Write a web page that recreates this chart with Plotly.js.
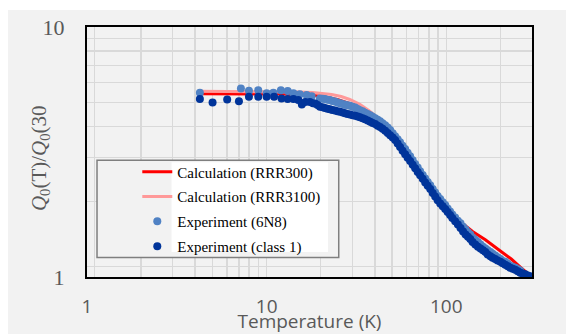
<!DOCTYPE html>
<html>
<head>
<meta charset="utf-8">
<script src="https://cdn.plot.ly/plotly-3.0.1.min.js"></script>
<style>
  html, body { margin: 0; padding: 0; background: #ffffff; }
  #wrap { position: absolute; left: 8px; top: 10px; width: 558px; height: 324px; }
  #chart { width: 558px; height: 324px; }
</style>
</head>
<body>
<div id="wrap"><div id="chart"></div></div>
<script>
// ---- Data ----
const seriesNames = ['Calculation (RRR300)', 'Calculation (RRR3100)', 'Experiment (6N8)', 'Experiment (class 1)'];

const calcRRR300_T = [4.2, 6, 8, 10, 12, 15, 18, 20, 25, 30, 35, 40, 45, 50, 60, 70, 80, 90, 100, 110, 120, 140, 165, 200, 230, 260, 300];
const calcRRR300_Q = [5.41, 5.41, 5.41, 5.40, 5.39, 5.37, 5.34, 5.30, 5.12, 4.90, 4.66, 4.38, 4.06, 3.74, 3.19, 2.75, 2.41, 2.11, 1.89, 1.76, 1.66, 1.52, 1.41, 1.27, 1.18, 1.09, 1.0];

const calcRRR3100_T = [4.2, 6, 8, 10, 12, 15, 18, 20, 23, 26, 29, 33, 37, 41, 45, 50, 55, 60, 70, 80, 90, 100, 120, 150, 200, 250, 300];
const calcRRR3100_Q = [5.53, 5.53, 5.53, 5.53, 5.52, 5.50, 5.47, 5.44, 5.37, 5.27, 5.13, 4.91, 4.64, 4.37, 4.10, 3.78, 3.47, 3.20, 2.74, 2.38, 2.10, 1.88, 1.60, 1.37, 1.17, 1.07, 1.0];

const exp6N8_T = [4.25, 7.19, 7.97, 8.98, 10.0, 10.9, 12.0, 13.1, 14.1, 15.3,
  16.7, 17.8, 19.8, 20.5, 21.1, 21.8, 22.5, 23.2, 24.0, 24.8,
  25.6, 26.5, 27.3, 28.2, 29.1, 30.1, 31.1, 32.1, 33.1, 34.2,
  35.3, 36.5, 37.7, 38.9, 40.2, 41.5, 42.8, 44.2, 45.7, 47.2,
  48.7, 50.3, 51.9, 53.6, 55.3, 57.1, 59.0, 60.9, 62.9, 65.0,
  67.1, 69.3, 71.5, 73.9, 76.3, 78.8, 81.4, 84.0, 86.7, 89.5,
  92.5, 95.5, 98.6, 101.7, 105, 108, 112, 116, 120, 124,
  128, 132, 136, 140, 145, 150, 155, 160, 165, 170,
  176, 181, 187, 193, 200, 206, 213, 220, 227, 234,
  242, 250, 258];
const exp6N8_Q = [5.46, 5.68, 5.56, 5.59, 5.43, 5.46, 5.59, 5.54, 5.43, 5.38,
  5.34, 5.29, 5.18, 5.16, 5.15, 5.12, 5.10, 5.06, 5.03, 4.99,
  4.95, 4.92, 4.89, 4.86, 4.84, 4.80, 4.76, 4.70, 4.65, 4.60,
  4.54, 4.49, 4.44, 4.38, 4.32, 4.26, 4.20, 4.12, 4.05, 3.96,
  3.87, 3.76, 3.66, 3.56, 3.46, 3.35, 3.25, 3.14, 3.04, 2.93,
  2.83, 2.74, 2.65, 2.56, 2.48, 2.40, 2.33, 2.25, 2.18, 2.11,
  2.05, 1.99, 1.94, 1.88, 1.83, 1.78, 1.73, 1.68, 1.64, 1.59,
  1.55, 1.51, 1.48, 1.44, 1.41, 1.38, 1.35, 1.32, 1.30, 1.28,
  1.26, 1.24, 1.22, 1.20, 1.18, 1.16, 1.15, 1.13, 1.11, 1.10,
  1.09, 1.075, 1.06];

const expClass1_T = [4.25, 5.0, 6.03, 7.01, 7.97, 8.98, 10.0, 11.0, 12.1, 13.1,
  14.1, 15.0, 15.7, 16.4, 17.4, 18.1, 18.6, 19.2, 19.8, 20.5,
  21.1, 21.8, 22.5, 23.2, 24.0, 24.8, 25.6, 26.5, 27.3, 28.2,
  29.1, 30.1, 31.1, 32.1, 33.1, 34.2, 35.3, 36.5, 37.7, 38.9,
  40.2, 41.5, 42.8, 44.2, 45.7, 47.2, 48.7, 50.3, 51.9, 53.6,
  55.3, 57.1, 59.0, 60.9, 62.9, 65.0, 67.1, 69.3, 71.5, 73.9,
  76.3, 78.8, 81.4, 84.0, 86.7, 89.5, 92.5, 95.5, 98.6, 101.7,
  105, 108, 112, 116, 120, 124, 128, 132, 136, 140,
  145, 150, 155, 160, 165, 170, 176, 181, 187, 193,
  200, 206, 213, 220, 227, 234, 242, 250, 258, 266,
  275, 284, 294];
const expClass1_Q = [5.15, 4.99, 5.13, 5.05, 5.26, 5.26, 5.26, 5.26, 5.18, 5.15,
  5.15, 5.10, 4.90, 5.01, 5.01, 4.95, 4.94, 4.87, 4.80, 4.77,
  4.74, 4.71, 4.69, 4.66, 4.63, 4.60, 4.58, 4.55, 4.52, 4.49,
  4.47, 4.44, 4.42, 4.39, 4.36, 4.32, 4.28, 4.23, 4.18, 4.13,
  4.09, 4.03, 3.98, 3.92, 3.85, 3.77, 3.69, 3.61, 3.53, 3.42,
  3.31, 3.20, 3.10, 3.00, 2.91, 2.81, 2.72, 2.63, 2.55, 2.47,
  2.39, 2.32, 2.25, 2.17, 2.10, 2.03, 1.97, 1.92, 1.87, 1.82,
  1.77, 1.72, 1.67, 1.62, 1.57, 1.52, 1.48, 1.45, 1.42, 1.38,
  1.35, 1.32, 1.30, 1.28, 1.26, 1.23, 1.21, 1.195, 1.18, 1.165,
  1.15, 1.135, 1.12, 1.105, 1.09, 1.08, 1.07, 1.055, 1.04, 1.032,
  1.025, 1.015, 1.006];

const xTickVals = [1, 10, 100];
const xTickText = ['1', '10', '100'];
const yTickVals = [1, 10];
const yTickText = ['1', '10'];
const xMinorGrid = [1.1, 2, 3, 4, 5, 6, 7, 8, 9, 20, 30, 40, 50, 60, 70, 80, 90, 200, 300];
const yMinorGrid = [1.1, 2, 3, 4, 5, 6, 7, 8, 9];
const xTitle = 'Temperature (K)';
const yTitle = '<i>Q</i><sub>0</sub>(T)/<i>Q</i><sub>0</sub>(30';

// ---- Traces ----
const traces = [
  { x: calcRRR300_T, y: calcRRR300_Q, name: seriesNames[0], legendgroup: 'g1', type: 'scatter', mode: 'lines',
    line: { color: '#ff0000', width: 3 } },
  { x: calcRRR3100_T, y: calcRRR3100_Q, name: seriesNames[1], legendgroup: 'g2', type: 'scatter', mode: 'lines',
    line: { color: '#ff9999', width: 3 } },
  { x: exp6N8_T, y: exp6N8_Q, name: seriesNames[2], legendgroup: 'g3', type: 'scatter', mode: 'markers',
    marker: { color: '#5082c4', size: 8 } },
  { x: expClass1_T, y: expClass1_Q, name: seriesNames[3], legendgroup: 'g4', type: 'scatter', mode: 'markers',
    marker: { color: '#00349a', size: 8 } }
];

const gridColor = '#d9d9d9';
const layout = {
  width: 558, height: 324,
  margin: { l: 79, r: 34, t: 17, b: 57, pad: 0 },
  paper_bgcolor: '#f2f2f2',
  plot_bgcolor: '#f2f2f2',
  showlegend: true,
  legend: {
    x: 0.113, y: 0.486, xanchor: 'left', yanchor: 'top',
    bgcolor: 'rgba(0,0,0,0)', borderwidth: 0,
    font: { family: 'Liberation Serif', size: 15, color: '#000000' },
    traceorder: 'grouped', tracegroupgap: 2.3
  },
  xaxis: {
    type: 'log', range: [0, Math.log10(300)],
    tickmode: 'array', tickvals: xTickVals, ticktext: xTickText,
    tickfont: { family: 'Open Sans', size: 19, color: '#595959' },
    ticks: '', ticklabelstandoff: 11,
    showgrid: true, gridcolor: gridColor, gridwidth: 1.5,
    minor: { tickmode: 'array', tickvals: xMinorGrid, showgrid: true, gridcolor: gridColor, gridwidth: 1.5, ticks: '' },
    showline: true, linecolor: '#000000', linewidth: 2, mirror: true, zeroline: false,
    title: { text: xTitle, font: { family: 'Open Sans', size: 19, color: '#595959' }, standoff: 1 }
  },
  yaxis: {
    type: 'log', range: [0, 1],
    tickmode: 'array', tickvals: yTickVals, ticktext: yTickText,
    tickfont: { family: 'Liberation Serif', size: 22, color: '#595959' },
    ticks: '', ticklabelstandoff: 16,
    showgrid: true, gridcolor: gridColor, gridwidth: 1.5,
    minor: { tickmode: 'array', tickvals: yMinorGrid, showgrid: true, gridcolor: gridColor, gridwidth: 1.5, ticks: '' },
    showline: true, linecolor: '#000000', linewidth: 2, mirror: true, zeroline: false
  },
  annotations: [
    { text: yTitle, xref: 'paper', yref: 'paper', x: -0.106, y: 0.475, xanchor: 'center', yanchor: 'middle',
      textangle: -90, showarrow: false, font: { family: 'Liberation Serif', size: 21, color: '#595959' } }
  ],
  shapes: [
    { type: 'rect', xref: 'paper', yref: 'paper', x0: 0.0225, x1: 0.5657, y0: 0.0777, y1: 0.4673,
      line: { color: '#7f7f7f', width: 1.5 }, fillcolor: '#f2f2f2', layer: 'above' },
    { type: 'rect', xref: 'paper', yref: 'paper', x0: 0.19, x1: 0.5416, y0: 0.1, y1: 0.4594,
      line: { width: 0 }, fillcolor: '#ffffff', layer: 'above' }
  ]
};

Plotly.newPlot('chart', traces, layout, { displayModeBar: false, staticPlot: true });
</script>
</body>
</html>
